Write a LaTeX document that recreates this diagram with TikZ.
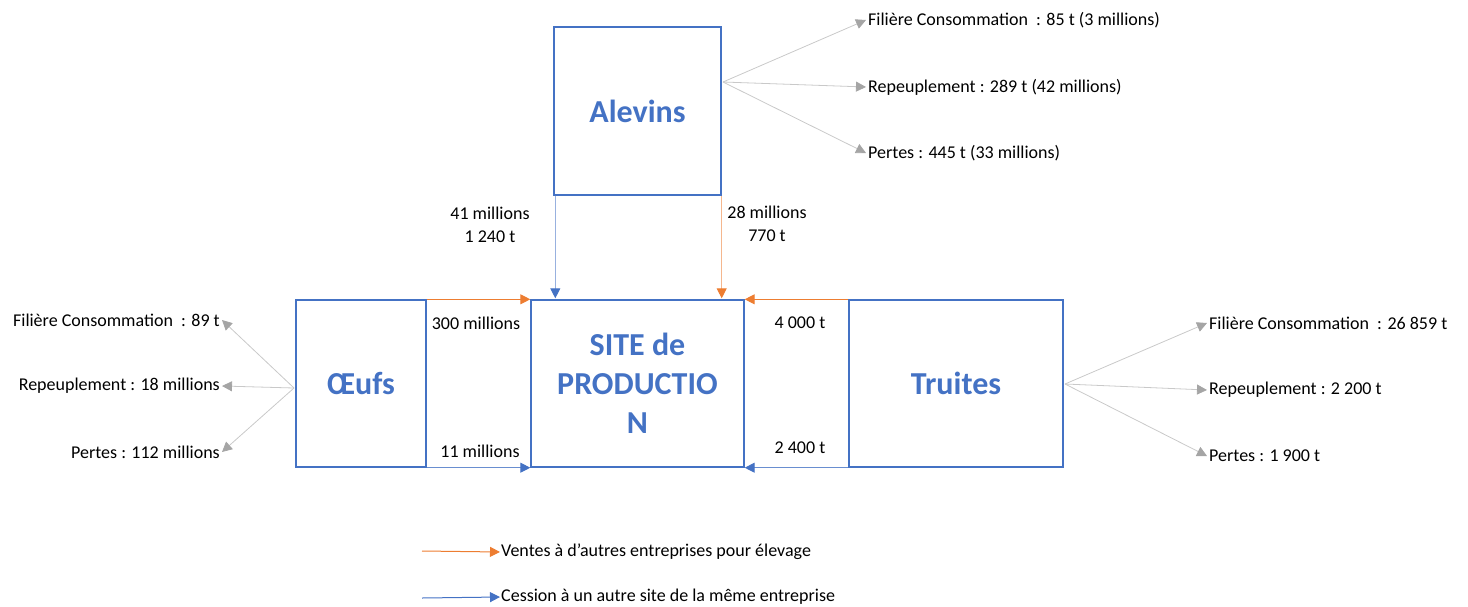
\documentclass[tikz,border=0pt]{standalone}
\usepackage{fontspec}
\setmainfont{Carlito}
\usetikzlibrary{arrows.meta}
\definecolor{boxblue}{HTML}{4472C4}
\definecolor{flowor}{HTML}{ED7D31}
\definecolor{fangray}{HTML}{A5A5A5}
\begin{document}
\begin{tikzpicture}
[x=1pt,y=-1pt,
 bloc/.style={draw=boxblue,line width=1.4pt,inner sep=0pt,text=boxblue,
   font=\fontsize{32}{39}\selectfont\bfseries,align=center},
 lab/.style={font=\fontsize{18}{23}\selectfont,inner sep=2pt},
 fan/.style={draw=fangray!60,line width=0.8pt,-{Triangle[length=10pt,width=10pt,color=fangray]}},
 vente/.style={draw=flowor,line width=1pt,-{Triangle[length=10pt,width=10pt,color=flowor]}},
 cession/.style={draw=boxblue,line width=1pt,-{Triangle[length=10pt,width=10pt,color=boxblue]}}]
\useasboundingbox (0,0) rectangle (1468,606);

\node[bloc,minimum width=167pt,minimum height=168pt] (alevins) at (637.5,111) {Alevins};
\node[bloc,minimum width=213pt,minimum height=167pt] (site) at (637.5,383.5) {SITE de\\PRODUCTIO\\N};
\node[bloc,minimum width=130pt,minimum height=167pt] (oeufs) at (361,383.5) {Œufs};
\node[bloc,minimum width=214pt,minimum height=167pt] (truites) at (956,383.5) {Truites};

\node[lab,anchor=west] (alv1) at (866,20) {Filière Consommation~ : 85 t (3 millions)};
\node[lab,anchor=west] (alv2) at (866,87) {Repeuplement : 289 t (42 millions)};
\node[lab,anchor=west] (alv3) at (866,153) {Pertes : 445 t (33 millions)};
\coordinate (afan) at (723,82);
\draw[fan] (afan) -- (alv1.west);
\draw[fan] (afan) -- (alv2.west);
\draw[fan] (afan) -- (alv3.west);

\node[lab,anchor=east] (oeu1) at (222,320) {Filière Consommation~ : 89 t};
\node[lab,anchor=east] (oeu2) at (222,386) {Repeuplement : 18 millions};
\node[lab,anchor=east] (oeu3) at (222,452) {Pertes : 112 millions};
\coordinate (ofan) at (294,388);
\draw[fan] (ofan) -- (oeu1.east);
\draw[fan] (ofan) -- (oeu2.east);
\draw[fan] (ofan) -- (oeu3.east);

\node[lab,anchor=west] (tru1) at (1207,323) {Filière Consommation~ : 26~859 t};
\node[lab,anchor=west] (tru2) at (1207,390) {Repeuplement : 2~200 t};
\node[lab,anchor=west] (tru3) at (1207,456) {Pertes : 1~900 t};
\coordinate (tfan) at (1065,384);
\draw[fan] (tfan) -- (tru1.west);
\draw[fan] (tfan) -- (tru2.west);
\draw[fan] (tfan) -- (tru3.west);

\node[lab,align=center] (a41) at (490,225) {41 millions\\1~240 t};
\node[lab,align=center] (a28) at (767,224) {28 millions\\770 t};
\node[lab] (o300) at (476,323) {300 millions};
\node[lab] (o11) at (480,451) {11 millions};
\node[lab] (t4000) at (800,323) {4~000 t};
\node[lab] (t2400) at (800,448) {2~400 t};

\draw[cession,draw=boxblue!55,shorten >=1pt] ([xshift=2pt]alevins.south west) -- ([xshift=2pt]alevins.south west |- site.north);
\draw[vente,draw=flowor!55,shorten >=1pt] (alevins.south east) -- (alevins.south east |- site.north);
\draw[vente] (oeufs.north east) -- (oeufs.north east -| site.west);
\draw[cession,draw=boxblue!80] (oeufs.south east) -- (oeufs.south east -| site.west);
\draw[vente] (truites.north west) -- (truites.north west -| site.east);
\draw[cession,draw=boxblue!80] (truites.south west) -- (truites.south west -| site.east);

\node[lab,anchor=west,inner sep=1pt] (legv) at (500,552) {Ventes à d’autres entreprises pour élevage};
\node[lab,anchor=west,inner sep=1pt] (legc) at (500,597) {Cession à un autre site de la même entreprise};
\coordinate (lv) at (422,551);
\coordinate (lc) at (422,598);
\draw[vente] (lv) -- (legv.west);
\draw[cession] (lc) -- (legc.west);
\end{tikzpicture}
\end{document}
